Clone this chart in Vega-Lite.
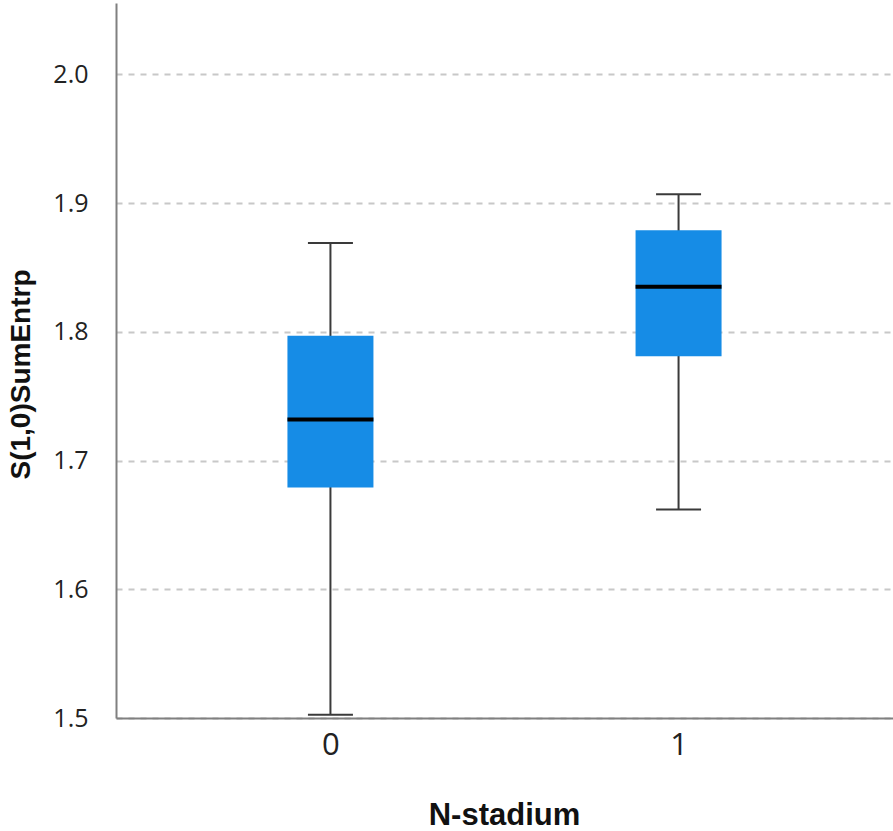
{
  "$schema": "https://vega.github.io/schema/vega-lite/v6.json",
  "width": 777,
  "height": 715,
  "autosize": {"type": "none"},
  "padding": {"left": 116, "top": 3, "right": 0, "bottom": 113},
  "background": "white",
  "config": {"view": {"stroke": null}},
  "data": {"values": [
    {"stadium": "0", "lower": 1.5026, "q1": 1.679, "median": 1.732, "q3": 1.797, "upper": 1.869},
    {"stadium": "1", "lower": 1.662, "q1": 1.781, "median": 1.835, "q3": 1.879, "upper": 1.907}
  ]},
  "encoding": {
    "x": {
      "field": "stadium", "type": "nominal",
      "scale": {"type": "point", "padding": 0.616},
      "title": "N-stadium",
      "axis": {
        "ticks": false, "labelAngle": 0, "labelPadding": 12,
        "labelFont": "Open Sans", "labelFontSize": 31, "labelColor": "#222222",
        "domainColor": "#808080", "domainWidth": 2,
        "titleFont": "Liberation Sans", "titleFontWeight": "bold", "titleFontSize": 31, "titleColor": "#111111",
        "titleX": 388, "titleY": 106, "titleBaseline": "alphabetic"
      }
    }
  },
  "layer": [
    {
      "mark": {"type": "rule", "color": "#3a3a3a", "strokeWidth": 2},
      "encoding": {
        "y": {
          "field": "lower", "type": "quantitative",
          "scale": {"domain": [1.5, 2.0555], "nice": false, "zero": false},
          "title": "S(1,0)SumEntrp",
          "axis": {
            "values": [1.5, 1.6, 1.7, 1.8, 1.9, 2.0], "format": ".1f",
            "ticks": false, "labelPadding": 28,
            "labelFont": "Open Sans", "labelFontSize": 25, "labelColor": "#222222",
            "domainColor": "#808080", "domainWidth": 2,
            "grid": true, "gridColor": "#c8c8c8", "gridWidth": 2, "gridDash": [6, 6],
            "titleFont": "Liberation Sans", "titleFontWeight": "bold", "titleFontSize": 28, "titleColor": "#111111",
            "titleX": -95, "titleY": 371, "titleBaseline": "middle"
          }
        },
        "y2": {"field": "upper"}
      }
    },
    {
      "mark": {"type": "tick", "color": "#3a3a3a", "size": 45, "thickness": 2, "opacity": 1},
      "encoding": {"y": {"field": "lower", "type": "quantitative"}}
    },
    {
      "mark": {"type": "tick", "color": "#3a3a3a", "size": 45, "thickness": 2, "opacity": 1},
      "encoding": {"y": {"field": "upper", "type": "quantitative"}}
    },
    {
      "mark": {"type": "bar", "width": 86, "color": "#168ce6"},
      "encoding": {"y": {"field": "q1", "type": "quantitative"}, "y2": {"field": "q3"}}
    },
    {
      "mark": {"type": "tick", "color": "#000000", "size": 86, "thickness": 4, "opacity": 1},
      "encoding": {"y": {"field": "median", "type": "quantitative"}}
    }
  ]
}
